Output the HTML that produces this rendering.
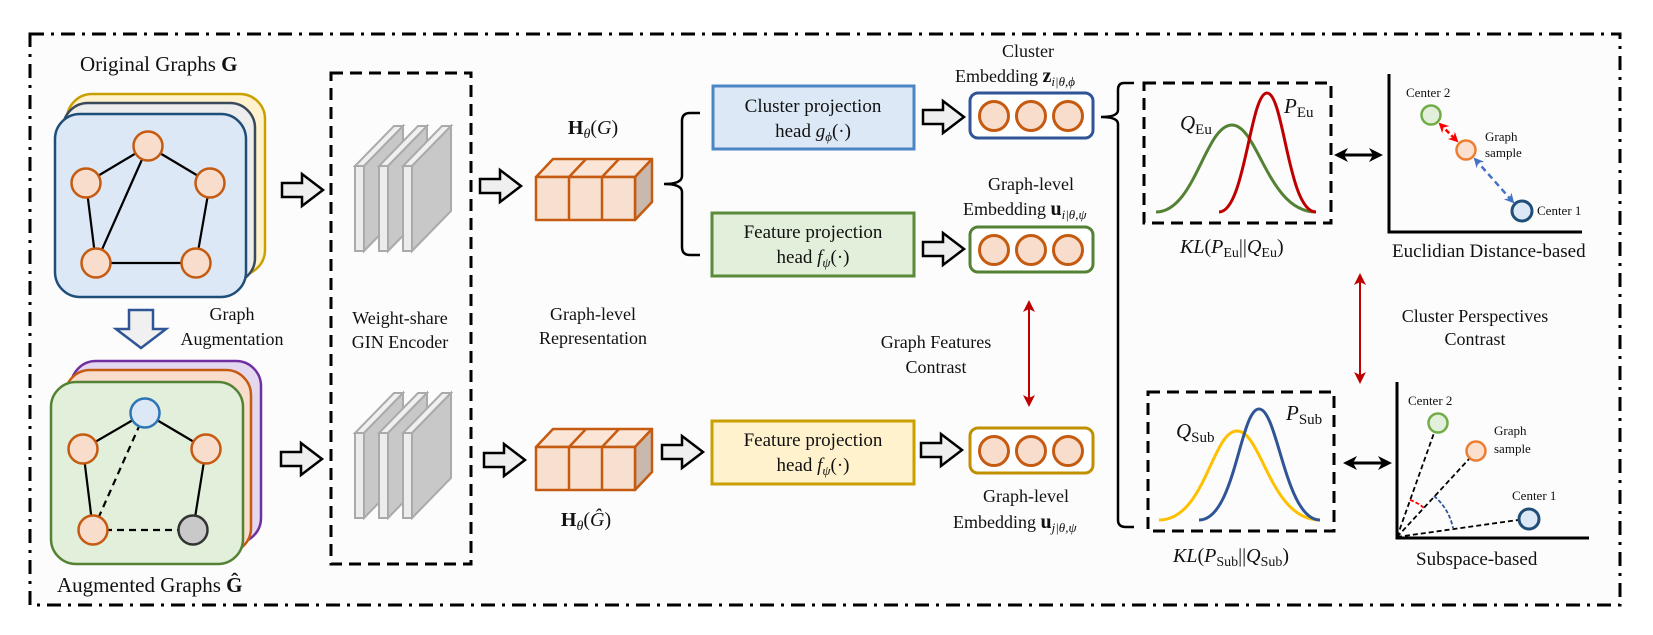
<!DOCTYPE html>
<html><head><meta charset="utf-8"><style>
html,body{margin:0;padding:0;background:#fff;}
svg{display:block;font-family:"Liberation Serif",serif;}
svg text{font-family:"Liberation Serif",serif !important;fill:#111;}
.it{font-style:italic;}
.b{font-weight:bold;}
</style></head><body>
<svg width="1653" height="635" viewBox="0 0 1653 635" xmlns="http://www.w3.org/2000/svg" font-family="Liberation Serif, serif">
<defs>
<marker id="ar" markerWidth="12" markerHeight="12" refX="9" refY="6" orient="auto-start-reverse" markerUnits="userSpaceOnUse"><path d="M0,0 L12,6 L0,12 L3,6 Z" fill="#c00000"/></marker>
<marker id="ak" markerWidth="14" markerHeight="14" refX="11" refY="7" orient="auto-start-reverse" markerUnits="userSpaceOnUse"><path d="M0,0 L14,7 L0,14 L4,7 Z" fill="#000"/></marker>
<marker id="arr" markerWidth="10" markerHeight="10" refX="8" refY="5" orient="auto-start-reverse" markerUnits="userSpaceOnUse"><path d="M0,0 L10,5 L0,10 L3,5 Z" fill="#ff0000"/></marker>
<marker id="abl" markerWidth="10" markerHeight="10" refX="8" refY="5" orient="auto-start-reverse" markerUnits="userSpaceOnUse"><path d="M0,0 L10,5 L0,10 L3,5 Z" fill="#4472c4"/></marker>
</defs>
<rect x="0" y="0" width="1653" height="635" fill="#fff"/>
<rect x="30" y="34" width="1590" height="571" fill="#fcfcfc" stroke="#000" stroke-width="3" stroke-dasharray="14 7 3 7"/>

<!-- Original graphs -->
<text x="80" y="71" font-size="21">Original Graphs <tspan class="b">G</tspan></text>
<rect x="67" y="94" width="198" height="181" rx="25" fill="#fff2cc" stroke="#c9a000" stroke-width="2.5"/>
<rect x="63" y="103" width="192" height="180" rx="25" fill="#ededed" stroke="#3a4a5a" stroke-width="2.5"/>
<rect x="55" y="114" width="191" height="183" rx="25" fill="#dce8f5" stroke="#1f4e79" stroke-width="2.5"/>
<g stroke="#000" stroke-width="2.2">
<line x1="148" y1="146" x2="86" y2="183"/><line x1="148" y1="146" x2="210" y2="183"/>
<line x1="148" y1="146" x2="96" y2="263"/><line x1="86" y1="183" x2="96" y2="263"/>
<line x1="210" y1="183" x2="196" y2="263"/><line x1="96" y1="263" x2="196" y2="263"/>
</g>
<g fill="#f8ddcc" stroke="#c55a11" stroke-width="2.5">
<circle cx="148" cy="146" r="14.5"/><circle cx="86" cy="183" r="14.5"/><circle cx="210" cy="183" r="14.5"/>
<circle cx="96" cy="263" r="14.5"/><circle cx="196" cy="263" r="14.5"/>
</g>
<polygon points="129,310 153,310 153,329 166,329 141,348 116,329 129,329" fill="#f0f0f0" stroke="#2f5597" stroke-width="2.5"/>
<text x="232" y="320" font-size="18" text-anchor="middle">Graph</text>
<text x="232" y="345" font-size="18" text-anchor="middle">Augmentation</text>

<!-- Augmented -->
<rect x="71" y="361" width="190" height="182" rx="25" fill="#e4d8f0" stroke="#7030a0" stroke-width="2.5"/>
<rect x="65" y="370" width="186" height="183" rx="25" fill="#f8ddcc" stroke="#c55a11" stroke-width="2.5"/>
<rect x="51" y="382" width="192" height="182" rx="25" fill="#e2efda" stroke="#548235" stroke-width="2.5"/>
<g stroke="#000" stroke-width="2.2">
<line x1="145" y1="413" x2="83" y2="449"/><line x1="145" y1="413" x2="206" y2="449"/>
<line x1="83" y1="449" x2="93" y2="530"/><line x1="206" y1="449" x2="193" y2="530"/>
<line x1="145" y1="413" x2="93" y2="530" stroke-dasharray="7 5"/>
<line x1="93" y1="530" x2="193" y2="530" stroke-dasharray="7 5"/>
</g>
<g stroke-width="2.5">
<circle cx="145" cy="413" r="14.5" fill="#dce8f5" stroke="#2e75b6"/>
<circle cx="83" cy="449" r="14.5" fill="#f8ddcc" stroke="#c55a11"/>
<circle cx="206" cy="449" r="14.5" fill="#f8ddcc" stroke="#c55a11"/>
<circle cx="93" cy="530" r="14.5" fill="#f8ddcc" stroke="#c55a11"/>
<circle cx="193" cy="530" r="14.5" fill="#c9c9c9" stroke="#333"/>
</g>
<text x="57" y="592" font-size="21">Augmented Graphs <tspan class="b">Ĝ</tspan></text>

<!-- hollow arrows -->
<g fill="#efefef" stroke="#000" stroke-width="2.5">
<polygon points="282,183 302,183 302,174 323,190 302,206 302,197 282,197"/>
<polygon points="281,452 301,452 301,443 322,459 301,475 301,466 281,466"/>
<polygon points="480,179 500,179 500,170 521,186 500,202 500,193 480,193"/>
<polygon points="484,453 504,453 504,444 525,460 504,476 504,467 484,467"/>
<polygon points="662,445 682,445 682,436 703,452 682,468 682,459 662,459"/>
<polygon points="923,110 943,110 943,101 964,117 943,133 943,124 923,124"/>
<polygon points="923,242 943,242 943,233 964,249 943,265 943,256 923,256"/>
<polygon points="921,443 941,443 941,434 962,450 941,466 941,457 921,457"/>
</g>

<!-- encoder -->
<rect x="331" y="73" width="140" height="491" fill="none" stroke="#000" stroke-width="3" stroke-dasharray="12 7"/>
<g stroke="#aaa" stroke-width="2">
<g id="slabs">
<polygon points="355,166 364,166 403,126 394,126" fill="#f0f0f0"/>
<polygon points="364,166 403,126 403,211 364,251" fill="#c8c8c8"/>
<rect x="355" y="166" width="9" height="85" fill="#ececec"/>
<polygon points="379,166 388,166 427,126 418,126" fill="#f0f0f0"/>
<polygon points="388,166 427,126 427,211 388,251" fill="#c8c8c8"/>
<rect x="379" y="166" width="9" height="85" fill="#ececec"/>
<polygon points="403,166 412,166 451,126 442,126" fill="#f0f0f0"/>
<polygon points="412,166 451,126 451,211 412,251" fill="#c8c8c8"/>
<rect x="403" y="166" width="9" height="85" fill="#ececec"/>
</g>
<use href="#slabs" transform="translate(0,267)"/>
</g>
<text x="400" y="324" font-size="18" text-anchor="middle">Weight-share</text>
<text x="400" y="348" font-size="18" text-anchor="middle">GIN Encoder</text>

<!-- cubes -->
<g id="cube" stroke="#c55a11" stroke-width="2.5" stroke-linejoin="round">
<polygon points="536,177 553,159 652,159 635,177" fill="#fbe5d6"/>
<polygon points="635,177 652,159 652,202 635,220" fill="#c9b8ac"/>
<rect x="536" y="177" width="99" height="43" fill="#f8e0d0"/>
<line x1="569" y1="177" x2="569" y2="220"/><line x1="602" y1="177" x2="602" y2="220"/>
<line x1="569" y1="177" x2="586" y2="159"/><line x1="602" y1="177" x2="619" y2="159"/>
</g>
<use href="#cube" transform="translate(0,270)"/>
<text x="593" y="134" font-size="20" text-anchor="middle"><tspan class="b">H</tspan><tspan class="it" font-size="14" dy="4">θ</tspan><tspan dy="-4">(</tspan><tspan class="it">G</tspan>)</text>
<text x="586" y="526" font-size="20" text-anchor="middle"><tspan class="b">H</tspan><tspan class="it" font-size="14" dy="4">θ</tspan><tspan dy="-4">(</tspan><tspan class="it">Ĝ</tspan>)</text>
<text x="593" y="320" font-size="18" text-anchor="middle">Graph-level</text>
<text x="593" y="344" font-size="18" text-anchor="middle">Representation</text>

<path d="M700,113 L690,113 Q682,113 682,121 L682,176 Q682,184 664,184 Q682,184 682,192 L682,247 Q682,255 690,255 L700,255" fill="none" stroke="#000" stroke-width="2.5"/>

<!-- projection heads -->
<rect x="713" y="86" width="201" height="63" fill="#dce8f5" stroke="#4a86c5" stroke-width="3"/>
<text x="813" y="112" font-size="19" text-anchor="middle">Cluster projection</text>
<text x="813" y="137" font-size="19" text-anchor="middle">head <tspan class="it">g</tspan><tspan class="it" font-size="13" dy="4">ϕ</tspan><tspan dy="-4">(·)</tspan></text>
<rect x="712" y="213" width="202" height="63" fill="#e2efda" stroke="#5a8a3a" stroke-width="3"/>
<text x="813" y="238" font-size="19" text-anchor="middle">Feature projection</text>
<text x="813" y="263" font-size="19" text-anchor="middle">head <tspan class="it">f</tspan><tspan class="it" font-size="13" dy="4">ψ</tspan><tspan dy="-4">(·)</tspan></text>
<rect x="712" y="421" width="202" height="63" fill="#fff2cc" stroke="#c9a000" stroke-width="3"/>
<text x="813" y="446" font-size="19" text-anchor="middle">Feature projection</text>
<text x="813" y="471" font-size="19" text-anchor="middle">head <tspan class="it">f</tspan><tspan class="it" font-size="13" dy="4">ψ</tspan><tspan dy="-4">(·)</tspan></text>

<!-- embeddings -->
<rect x="970" y="93" width="123" height="45" rx="8" fill="#fff" stroke="#2f5597" stroke-width="3"/>
<rect x="970" y="227" width="123" height="45" rx="8" fill="#fff" stroke="#548235" stroke-width="3"/>
<rect x="970" y="428" width="123" height="45" rx="8" fill="#fff" stroke="#bf9000" stroke-width="3"/>
<g fill="#f8ddcc" stroke="#c55a11" stroke-width="3">
<circle cx="994" cy="116" r="14.5"/><circle cx="1031" cy="116" r="14.5"/><circle cx="1068" cy="116" r="14.5"/>
<circle cx="994" cy="250" r="14.5"/><circle cx="1031" cy="250" r="14.5"/><circle cx="1068" cy="250" r="14.5"/>
<circle cx="994" cy="451" r="14.5"/><circle cx="1031" cy="451" r="14.5"/><circle cx="1068" cy="451" r="14.5"/>
</g>
<text x="1028" y="57" font-size="18" text-anchor="middle">Cluster</text>
<text x="955" y="82" font-size="18">Embedding <tspan class="b" font-size="20">z</tspan><tspan class="it" font-size="13" dy="4">i|θ,ϕ</tspan></text>
<text x="988" y="190" font-size="18">Graph-level</text>
<text x="963" y="215" font-size="18">Embedding <tspan class="b" font-size="20">u</tspan><tspan class="it" font-size="13" dy="4">i|θ,ψ</tspan></text>
<text x="983" y="502" font-size="18">Graph-level</text>
<text x="953" y="528" font-size="18">Embedding <tspan class="b" font-size="20">u</tspan><tspan class="it" font-size="13" dy="4">j|θ,ψ</tspan></text>

<line x1="1029" y1="303" x2="1029" y2="404" stroke="#c00000" stroke-width="2" marker-start="url(#ar)" marker-end="url(#ar)"/>
<text x="936" y="348" font-size="18" text-anchor="middle">Graph Features</text>
<text x="936" y="373" font-size="18" text-anchor="middle">Contrast</text>

<path d="M1134,83 L1124,83 Q1118,83 1118,90 L1118,110 Q1118,117 1101,117 Q1118,117 1118,124 L1118,520 Q1118,527 1126,527 L1134,527" fill="none" stroke="#000" stroke-width="2.5"/>

<!-- Eu box -->
<rect x="1144" y="83" width="187" height="140" fill="none" stroke="#000" stroke-width="3" stroke-dasharray="12 7"/>
<path d="M1156,212 C1195,212 1205,125 1232,125 C1258,125 1268,212 1316,212" fill="none" stroke="#548235" stroke-width="3"/>
<path d="M1219,212 C1245,212 1250,93 1267,93 C1284,93 1288,212 1316,212" fill="none" stroke="#c00000" stroke-width="3"/>
<text x="1180" y="130" font-size="21"><tspan class="it">Q</tspan><tspan font-size="15" dy="4">Eu</tspan></text>
<text x="1284" y="113" font-size="21"><tspan class="it">P</tspan><tspan font-size="15" dy="4">Eu</tspan></text>
<text x="1180" y="253" font-size="20"><tspan class="it">KL</tspan>(<tspan class="it">P</tspan><tspan font-size="14" dy="4">Eu</tspan><tspan dy="-4">||</tspan><tspan class="it">Q</tspan><tspan font-size="14" dy="4">Eu</tspan><tspan dy="-4">)</tspan></text>
<line x1="1337" y1="155" x2="1380" y2="155" stroke="#000" stroke-width="3" marker-start="url(#ak)" marker-end="url(#ak)"/>

<!-- Euclidean plot -->
<path d="M1389,74 L1389,232 L1582,232" fill="none" stroke="#000" stroke-width="3"/>
<line x1="1440" y1="124" x2="1457" y2="141" stroke="#ff0000" stroke-width="2.5" stroke-dasharray="5 3" marker-start="url(#arr)" marker-end="url(#arr)"/>
<line x1="1475" y1="159" x2="1513" y2="202" stroke="#4472c4" stroke-width="2.5" stroke-dasharray="6 4" marker-start="url(#abl)" marker-end="url(#abl)"/>
<circle cx="1431" cy="115" r="9.5" fill="#e2efda" stroke="#70ad47" stroke-width="2.5"/>
<circle cx="1466" cy="150" r="9.5" fill="#fbe0d0" stroke="#ed7d31" stroke-width="2.5"/>
<circle cx="1522" cy="211" r="10" fill="#dce8f5" stroke="#1f4e79" stroke-width="3"/>
<text x="1406" y="97" font-size="13">Center 2</text>
<text x="1485" y="141" font-size="13">Graph</text>
<text x="1485" y="157" font-size="13">sample</text>
<text x="1537" y="215" font-size="13">Center 1</text>
<text x="1392" y="257" font-size="19">Euclidian Distance-based</text>

<line x1="1360" y1="276" x2="1360" y2="381" stroke="#c00000" stroke-width="2" marker-start="url(#ar)" marker-end="url(#ar)"/>
<text x="1475" y="322" font-size="18" text-anchor="middle">Cluster Perspectives</text>
<text x="1475" y="345" font-size="18" text-anchor="middle">Contrast</text>

<!-- Sub box -->
<rect x="1148" y="392" width="186" height="139" fill="none" stroke="#000" stroke-width="3" stroke-dasharray="12 7"/>
<path d="M1159,520 C1205,520 1212,431 1237,431 C1262,431 1270,520 1320,520" fill="none" stroke="#ffc000" stroke-width="3"/>
<path d="M1199,520 C1235,520 1240,409 1259,409 C1278,409 1285,520 1320,520" fill="none" stroke="#2f5597" stroke-width="3"/>
<text x="1176" y="438" font-size="21"><tspan class="it">Q</tspan><tspan font-size="15" dy="4">Sub</tspan></text>
<text x="1286" y="420" font-size="21"><tspan class="it">P</tspan><tspan font-size="15" dy="4">Sub</tspan></text>
<text x="1173" y="562" font-size="20"><tspan class="it">KL</tspan>(<tspan class="it">P</tspan><tspan font-size="14" dy="4">Sub</tspan><tspan dy="-4">||</tspan><tspan class="it">Q</tspan><tspan font-size="14" dy="4">Sub</tspan><tspan dy="-4">)</tspan></text>
<line x1="1346" y1="463" x2="1389" y2="463" stroke="#000" stroke-width="3" marker-start="url(#ak)" marker-end="url(#ak)"/>

<!-- Subspace plot -->
<g stroke="#000" stroke-width="1.8" stroke-dasharray="5 3">
<line x1="1397" y1="537" x2="1434" y2="433"/>
<line x1="1397" y1="537" x2="1469" y2="459"/>
<line x1="1397" y1="537" x2="1518" y2="520"/>
</g>
<path d="M1410,500 A40,40 0 0,1 1424,508" fill="none" stroke="#ff0000" stroke-width="1.8" stroke-dasharray="4 2"/>
<path d="M1434,496 A56,56 0 0,1 1453,528" fill="none" stroke="#2f5597" stroke-width="1.8" stroke-dasharray="4 2"/>
<path d="M1397,382 L1397,538 L1589,538" fill="none" stroke="#000" stroke-width="3"/>
<circle cx="1438" cy="423" r="9.5" fill="#e2efda" stroke="#70ad47" stroke-width="2.5"/>
<circle cx="1476" cy="451" r="9.5" fill="#fbe0d0" stroke="#ed7d31" stroke-width="2.5"/>
<circle cx="1529" cy="519" r="10" fill="#dce8f5" stroke="#1f4e79" stroke-width="3"/>
<text x="1408" y="405" font-size="13">Center 2</text>
<text x="1494" y="435" font-size="13">Graph</text>
<text x="1494" y="453" font-size="13">sample</text>
<text x="1512" y="500" font-size="13">Center 1</text>
<text x="1416" y="565" font-size="19">Subspace-based</text>
</svg>
</body></html>
